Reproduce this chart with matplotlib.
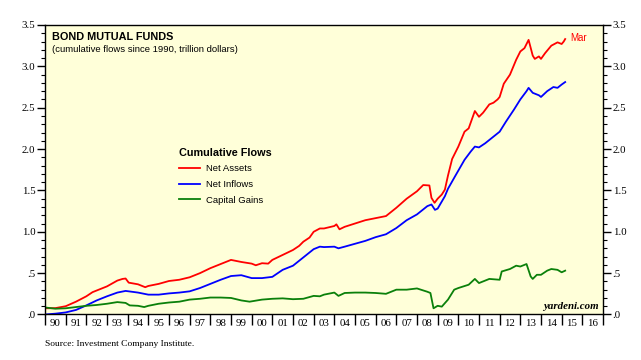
import matplotlib
matplotlib.use("Agg")
import matplotlib.pyplot as plt
from matplotlib.ticker import MultipleLocator, FixedLocator, NullFormatter

# cumulative flows, trillion dollars (decimal years)
assets_x = [1990.0, 1990.5, 1991.0, 1991.5, 1992.0, 1992.3, 1992.5, 1993.0, 1993.5, 1993.75,
            1993.9, 1994.05, 1994.5, 1994.85, 1995.0, 1995.5, 1996.0, 1996.5, 1997.0, 1997.5,
            1998.0, 1998.5, 1999.0, 1999.5, 2000.0, 2000.2, 2000.5, 2000.8, 2001.0, 2001.5,
            2002.0, 2002.3, 2002.5, 2002.8, 2003.0, 2003.3, 2003.5, 2004.0, 2004.1, 2004.25,
            2004.5, 2005.0, 2005.5, 2006.0, 2006.5, 2007.0, 2007.5, 2008.0, 2008.3, 2008.6,
            2008.7, 2008.85, 2009.0, 2009.2, 2009.35, 2009.5, 2009.7, 2010.0, 2010.3, 2010.5,
            2010.8, 2011.0, 2011.2, 2011.5, 2011.7, 2011.9, 2012.0, 2012.2, 2012.5, 2012.8,
            2013.0, 2013.2, 2013.4, 2013.6, 2013.7, 2013.9, 2014.0, 2014.2, 2014.5, 2014.8,
            2015.0, 2015.1, 2015.17]
assets_y = [0.075, 0.077, 0.10, 0.155, 0.22, 0.27, 0.29, 0.34, 0.41, 0.43,
            0.435, 0.385, 0.365, 0.33, 0.345, 0.37, 0.405, 0.42, 0.45, 0.50,
            0.56, 0.61, 0.66, 0.635, 0.615, 0.595, 0.62, 0.615, 0.66, 0.72,
            0.78, 0.83, 0.88, 0.93, 1.00, 1.04, 1.04, 1.07, 1.09, 1.03,
            1.06, 1.10, 1.14, 1.165, 1.19, 1.29, 1.40, 1.49, 1.565, 1.56,
            1.41, 1.35, 1.40, 1.45, 1.51, 1.68, 1.88, 2.03, 2.21, 2.25,
            2.46, 2.39, 2.44, 2.54, 2.56, 2.60, 2.63, 2.79, 2.90, 3.08,
            3.18, 3.22, 3.32, 3.13, 3.09, 3.12, 3.09, 3.16, 3.25, 3.29,
            3.27, 3.30, 3.33]

inflows_x = [1990.0, 1990.5, 1991.0, 1991.5, 1992.0, 1992.5, 1993.0, 1993.5, 1993.9, 1994.5,
             1995.0, 1995.5, 1996.0, 1996.5, 1997.0, 1997.5, 1998.0, 1998.5, 1999.0, 1999.5,
             2000.0, 2000.5, 2001.0, 2001.5, 2002.0, 2002.5, 2003.0, 2003.3, 2003.5, 2004.0,
             2004.2, 2004.5, 2005.0, 2005.5, 2006.0, 2006.5, 2007.0, 2007.5, 2008.0, 2008.5,
             2008.7, 2008.87, 2009.0, 2009.35, 2009.5, 2009.84, 2010.3, 2010.6, 2010.8, 2011.0,
             2011.3, 2011.6, 2012.0, 2012.3, 2012.7, 2013.0, 2013.3, 2013.4, 2013.6, 2013.9,
             2014.0, 2014.3, 2014.6, 2014.8, 2015.0, 2015.17]
inflows_y = [0.0, 0.01, 0.025, 0.055, 0.11, 0.17, 0.22, 0.265, 0.285, 0.265,
             0.24, 0.24, 0.255, 0.265, 0.28, 0.32, 0.37, 0.42, 0.465, 0.475,
             0.44, 0.44, 0.455, 0.54, 0.59, 0.69, 0.79, 0.82, 0.815, 0.82,
             0.80, 0.82, 0.855, 0.89, 0.935, 0.97, 1.045, 1.14, 1.21, 1.31,
             1.33, 1.265, 1.28, 1.43, 1.52, 1.67, 1.87, 1.97, 2.03, 2.02,
             2.07, 2.13, 2.21, 2.33, 2.48, 2.60, 2.70, 2.74, 2.68, 2.65,
             2.63, 2.70, 2.75, 2.74, 2.78, 2.81]

gains_x = [1990.0, 1990.5, 1991.0, 1991.5, 1992.0, 1992.5, 1993.0, 1993.5, 1993.9, 1994.1,
           1994.5, 1994.8, 1995.0, 1995.5, 1996.0, 1996.5, 1997.0, 1997.5, 1998.0, 1998.5,
           1999.0, 1999.5, 1999.9, 2000.5, 2001.0, 2001.5, 2002.0, 2002.5, 2003.0, 2003.3,
           2003.5, 2004.0, 2004.2, 2004.5, 2005.0, 2005.5, 2006.0, 2006.5, 2007.0, 2007.5,
           2008.0, 2008.5, 2008.65, 2008.8, 2009.0, 2009.2, 2009.5, 2009.8, 2010.0, 2010.5,
           2010.8, 2011.0, 2011.5, 2012.0, 2012.1, 2012.5, 2012.8, 2013.0, 2013.3, 2013.5,
           2013.6, 2013.8, 2014.0, 2014.3, 2014.5, 2014.8, 2015.0, 2015.17]
gains_y = [0.085, 0.07, 0.075, 0.09, 0.105, 0.115, 0.13, 0.15, 0.14, 0.11,
           0.105, 0.09, 0.105, 0.13, 0.145, 0.155, 0.18, 0.19, 0.205, 0.205,
           0.20, 0.17, 0.155, 0.18, 0.19, 0.195, 0.185, 0.19, 0.225, 0.22,
           0.24, 0.265, 0.225, 0.26, 0.265, 0.265, 0.26, 0.25, 0.30, 0.30,
           0.315, 0.275, 0.26, 0.075, 0.105, 0.095, 0.18, 0.30, 0.32, 0.36,
           0.43, 0.38, 0.43, 0.42, 0.52, 0.55, 0.59, 0.58, 0.61, 0.46,
           0.43, 0.48, 0.48, 0.53, 0.55, 0.54, 0.51, 0.53]

year_labels = ["90", "91", "92", "93", "94", "95", "96", "97", "98", "99", "00", "01", "02",
               "03", "04", "05", "06", "07", "08", "09", "10", "11", "12", "13", "14", "15", "16"]

serif = "Liberation Serif"
sans = "Liberation Sans"

fig = plt.figure(figsize=(6.41, 3.6), dpi=100)
ax = fig.add_axes([0.0702, 0.1264, 0.8705, 0.8042])
ax.set_facecolor("#ffffd9")

ax.plot(assets_x, assets_y, color="#ff0000", lw=1.3, label="Net Assets")
ax.plot(inflows_x, inflows_y, color="#0000ff", lw=1.3, label="Net Inflows")
ax.plot(gains_x, gains_y, color="#0a800a", lw=1.3, label="Capital Gains")

ax.set_xlim(1990, 2017)
ax.set_ylim(0, 3.5)

# x axis: ticks at year boundaries, labels mid-year
ax.xaxis.set_major_locator(FixedLocator(range(1990, 2018)))
ax.xaxis.set_major_formatter(NullFormatter())
ax.xaxis.set_minor_locator(FixedLocator([y + 0.5 for y in range(1990, 2017)]))
ax.set_xticklabels(year_labels, minor=True)
ax.tick_params(axis="x", which="major", direction="out", length=8, width=1)
ax.tick_params(axis="x", which="minor", length=0, pad=3, labelsize=7.8)

# y axis on both sides
ax.yaxis.set_major_locator(MultipleLocator(0.5))
ax.yaxis.set_minor_locator(MultipleLocator(0.1))
yt = [0, 0.5, 1.0, 1.5, 2.0, 2.5, 3.0, 3.5]
ylab = [".0", ".5", "1.0", "1.5", "2.0", "2.5", "3.0", "3.5"]
ax.set_yticks(yt)
ax.set_yticklabels(ylab)
ax.tick_params(axis="y", which="both", direction="out", left=True, right=True,
               labelleft=True, labelright=True, labelsize=7.8, pad=1)
ax.tick_params(axis="y", which="major", length=6, width=1)
ax.tick_params(axis="y", which="minor", length=3, width=0.8)

for lab in ax.get_xticklabels(minor=True) + ax.get_yticklabels():
    lab.set_fontfamily(serif)
for side in ["left", "right", "top", "bottom"]:
    ax.spines[side].set_linewidth(1)

ax.text(0.012, 0.975, "BOND MUTUAL FUNDS", transform=ax.transAxes, ha="left", va="top",
        fontsize=7.8, fontweight="bold", family=sans)
ax.text(0.012, 0.93, "(cumulative flows since 1990, trillion dollars)", transform=ax.transAxes,
        ha="left", va="top", fontsize=6.8, family=sans)

leg = ax.legend(loc="upper left", bbox_to_anchor=(0.225, 0.605), frameon=False,
                title="Cumulative Flows", prop={"family": sans, "size": 6.8},
                handlelength=2.2, handletextpad=0.7, labelspacing=0.7)
leg.get_title().set_fontweight("bold")
leg.get_title().set_fontsize(7.8)
leg.get_title().set_fontfamily(sans)
leg._legend_box.align = "left"

ax.annotate("Mar", xy=(assets_x[-1], assets_y[-1]), xytext=(4, 1), textcoords="offset points",
            ha="left", va="center", color="#ff0000", fontsize=7, family=sans)

ax.text(0.993, 0.012, "yardeni.com", transform=ax.transAxes, ha="right", va="bottom",
        fontsize=7.8, fontweight="bold", fontstyle="italic", family=serif)

fig.text(0.0702, 0.045, "Source: Investment Company Institute.", ha="left", va="center",
         fontsize=6.8, family=serif)

fig.savefig("out.png", dpi=100)
